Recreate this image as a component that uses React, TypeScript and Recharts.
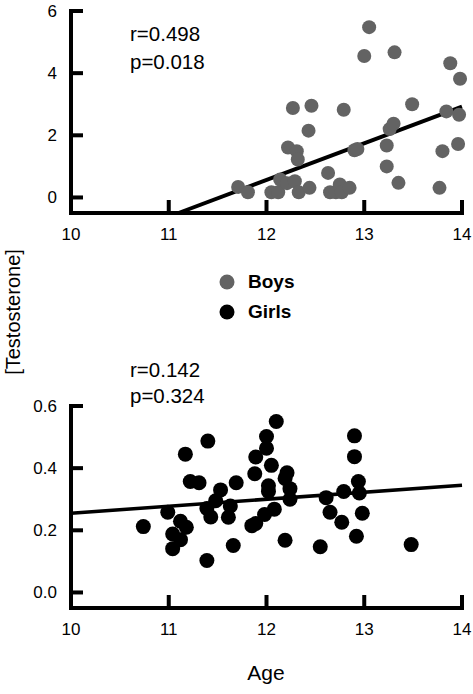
import React from 'react';
import { ScatterChart, Scatter, XAxis, YAxis, ReferenceLine, Legend } from 'recharts';

const ageTicks = [10, 11, 12, 13, 14];
const boysTicks = [0, 2, 4, 6];
const girlsTicks = [0.0, 0.2, 0.4, 0.6];
const ageDomain: [number, number] = [10, 14];
const boysDomain: [number, number] = [-0.5, 6];
const girlsDomain: [number, number] = [-0.05, 0.6];

const boysAge = [11.71, 11.81, 12.05, 12.12, 12.14, 12.21, 12.22, 12.27, 12.29, 12.31, 12.32, 12.33, 12.43, 12.44, 12.46, 12.63, 12.65, 12.71, 12.75, 12.77, 12.79, 12.85, 12.90, 12.93, 13.00, 13.05, 13.23, 13.23, 13.26, 13.30, 13.31, 13.35, 13.49, 13.77, 13.80, 13.84, 13.88, 13.96, 13.97, 13.98];
const boysT = [0.34, 0.17, 0.17, 0.17, 0.58, 0.46, 1.61, 2.88, 0.52, 1.49, 1.22, 0.17, 2.15, 0.31, 2.95, 0.79, 0.17, 0.17, 0.42, 0.17, 2.82, 0.31, 1.52, 1.56, 4.55, 5.48, 1.67, 1.00, 2.20, 2.37, 4.67, 0.47, 3.00, 0.31, 1.49, 2.77, 4.32, 1.72, 2.66, 3.82];

const girlsAge = [10.74, 10.99, 11.04, 11.04, 11.12, 11.12, 11.18, 11.17, 11.22, 11.31, 11.40, 11.39, 11.43, 11.39, 11.48, 11.53, 11.63, 11.61, 11.69, 11.66, 11.89, 11.88, 11.85, 11.89, 11.98, 12.00, 12.00, 12.05, 12.02, 12.02, 12.10, 12.08, 12.19, 12.21, 12.19, 12.24, 12.24, 12.55, 12.61, 12.65, 12.77, 12.79, 12.90, 12.90, 12.94, 12.95, 12.92, 12.98, 13.48];
const girlsT = [0.212, 0.258, 0.188, 0.141, 0.229, 0.170, 0.210, 0.445, 0.357, 0.353, 0.487, 0.270, 0.243, 0.103, 0.295, 0.330, 0.278, 0.242, 0.353, 0.151, 0.436, 0.382, 0.215, 0.222, 0.251, 0.502, 0.464, 0.409, 0.343, 0.325, 0.550, 0.268, 0.168, 0.385, 0.367, 0.334, 0.300, 0.147, 0.305, 0.258, 0.226, 0.325, 0.504, 0.437, 0.357, 0.320, 0.181, 0.255, 0.154];

const boysFitAge = [11.1, 14];
const boysFitT = [-0.5, 2.92];
const girlsFitAge = [10, 14];
const girlsFitT = [0.255, 0.345];

const seriesNames = ['Boys', 'Girls'];
const seriesColors = ['#636363', '#000000'];
const boysStats = ['r=0.498', 'p=0.018'];
const girlsStats = ['r=0.142', 'p=0.324'];
const yLabel = '[Testosterone]';
const xLabel = 'Age';

const FONT = '"Liberation Sans", Arial, Helvetica, sans-serif';

const boysData = boysAge.map((x, i) => ({ x, y: boysT[i] }));
const girlsData = girlsAge.map((x, i) => ({ x, y: girlsT[i] }));
const boysFit = boysFitAge.map((x, i) => ({ x, y: boysFitT[i] }));
const girlsFit = girlsFitAge.map((x, i) => ({ x, y: girlsFitT[i] }));

// layout
const CHART_W = 473;
const MARGIN_L = 11;
const MARGIN_R = 11;
const Y_AXIS_W = 60;
const PLOT_LEFT = MARGIN_L + Y_AXIS_W;
const PLOT_W = CHART_W - PLOT_LEFT - MARGIN_R;
const PLOT_H = 202;
const TOP_CHART = { top: 0, height: 340, marginTop: 11 };
const BOTTOM_CHART = { top: 340, height: 354, marginTop: 66 };
const X_AXIS_H = 40;
const Y_MARGIN = 14;
const X_MARGIN = 21;
const X_TICK_LEN = 13;
const Y_TICK_LEN = 12;

function makeYTick(fmt: (v: number) => string) {
  return (props: any) => {
    const { x, y, payload } = props;
    return (
      <text x={x} y={y} dy={6} textAnchor="end" fontSize={17} fontFamily={FONT} fill="#000">
        {fmt(payload.value)}
      </text>
    );
  };
}

const XTick = (props: any) => {
  const { x, y, payload } = props;
  return (
    <text x={x} y={y} dy={6} textAnchor="middle" fontSize={17} fontFamily={FONT} fill="#000">
      {payload.value}
    </text>
  );
};

const dot = (color: string, r: number) => (p: any) => (
  <circle cx={p.cx} cy={p.cy} r={r} fill={color} />
);

const LegendContent = () => (
  <svg width={120} height={64}>
    {seriesNames.map((n, i) => (
      <g key={n}>
        <circle cx={17} cy={17 + i * 30} r={7.5} fill={seriesColors[i]} />
        <text x={38} y={23 + i * 30} fontSize={19} fontWeight="bold" fontFamily={FONT} fill="#000">
          {n}
        </text>
      </g>
    ))}
  </svg>
);

const axisLineStyle = { stroke: '#000', strokeWidth: 4, strokeLinecap: 'square' as const };

// inward tick marks (same linear mapping as the charts' axes)
function InwardTicks({ plotTop, yDomain, yTicks }: { plotTop: number; yDomain: [number, number]; yTicks: number[] }) {
  const sx = (a: number) => PLOT_LEFT + ((a - ageDomain[0]) / (ageDomain[1] - ageDomain[0])) * PLOT_W;
  const sy = (v: number) => plotTop + ((yDomain[1] - v) / (yDomain[1] - yDomain[0])) * PLOT_H;
  const bottom = plotTop + PLOT_H;
  return (
    <g>
      {yTicks.map((v) => (
        <rect key={'y' + v} x={PLOT_LEFT} y={sy(v) - 2} width={Y_TICK_LEN} height={4} fill="#000" />
      ))}
      {ageTicks.slice(1).map((a) => (
        <rect key={'x' + a} x={sx(a) - 2} y={bottom - X_TICK_LEN} width={4} height={X_TICK_LEN} fill="#000" />
      ))}
    </g>
  );
}

function Panel({
  cfg,
  yDomain,
  yTicks,
  fmt,
  data,
  color,
  r,
  fit,
  fitWidth,
  legend,
}: {
  cfg: { top: number; height: number; marginTop: number };
  yDomain: [number, number];
  yTicks: number[];
  fmt: (v: number) => string;
  data: { x: number; y: number }[];
  color: string;
  r: number;
  fit: { x: number; y: number }[];
  fitWidth: number;
  legend: boolean;
}) {
  const marginBottom = cfg.height - cfg.marginTop - PLOT_H - X_AXIS_H;
  return (
    <div style={{ position: 'absolute', left: 0, top: cfg.top }}>
      <ScatterChart
        width={CHART_W}
        height={cfg.height}
        margin={{ top: cfg.marginTop, right: MARGIN_R, left: MARGIN_L, bottom: marginBottom }}
      >
        <XAxis
          type="number"
          dataKey="x"
          domain={ageDomain}
          ticks={ageTicks}
          interval={0}
          height={X_AXIS_H}
          tickSize={0}
          tickMargin={X_MARGIN}
          tickLine={false}
          axisLine={axisLineStyle}
          tick={XTick}
        />
        <YAxis
          type="number"
          dataKey="y"
          domain={yDomain}
          ticks={yTicks}
          interval={0}
          width={Y_AXIS_W}
          tickSize={0}
          tickMargin={Y_MARGIN}
          tickLine={false}
          axisLine={axisLineStyle}
          tick={makeYTick(fmt)}
        />
        <Scatter data={data} fill={color} shape={dot(color, r)} isAnimationActive={false} />
        <ReferenceLine segment={fit} stroke="#000" strokeWidth={fitWidth} />
        {legend && (
          <Legend
            layout="vertical"
            align="center"
            verticalAlign="middle"
            content={LegendContent}
            wrapperStyle={{ position: 'absolute', left: 210, top: 265, width: 120, height: 64 }}
          />
        )}
      </ScatterChart>
    </div>
  );
}

export default function App() {
  return (
    <div style={{ position: 'absolute', left: 0, top: 0, width: 473, height: 694, background: '#fff' }}>
      <Panel
        cfg={TOP_CHART}
        yDomain={boysDomain}
        yTicks={boysTicks}
        fmt={(v) => String(v)}
        data={boysData}
        color={seriesColors[0]}
        r={7}
        fit={boysFit}
        fitWidth={4}
        legend
      />
      <Panel
        cfg={BOTTOM_CHART}
        yDomain={girlsDomain}
        yTicks={girlsTicks}
        fmt={(v) => v.toFixed(1)}
        data={girlsData}
        color={seriesColors[1]}
        r={7.5}
        fit={girlsFit}
        fitWidth={3.5}
        legend={false}
      />
      <svg
        width={473}
        height={694}
        style={{ position: 'absolute', left: 0, top: 0, pointerEvents: 'none' }}
        fontFamily={FONT}
      >
        <InwardTicks plotTop={TOP_CHART.top + TOP_CHART.marginTop} yDomain={boysDomain} yTicks={boysTicks} />
        <InwardTicks plotTop={BOTTOM_CHART.top + BOTTOM_CHART.marginTop} yDomain={girlsDomain} yTicks={girlsTicks} />
        <text x={130} y={40.5} fontSize={20.5} fill="#000">{boysStats[0]}</text>
        <text x={130} y={69} fontSize={20.5} fill="#000">{boysStats[1]}</text>
        <text x={130} y={377} fontSize={20.5} fill="#000">{girlsStats[0]}</text>
        <text x={130} y={402.5} fontSize={20.5} fill="#000">{girlsStats[1]}</text>
        <text x={13} y={312} dy={7} fontSize={20} textAnchor="middle" transform="rotate(-90 13 312)" fill="#000">
          {yLabel}
        </text>
        <text x={266} y={680} fontSize={21} textAnchor="middle" fill="#000">{xLabel}</text>
      </svg>
    </div>
  );
}
